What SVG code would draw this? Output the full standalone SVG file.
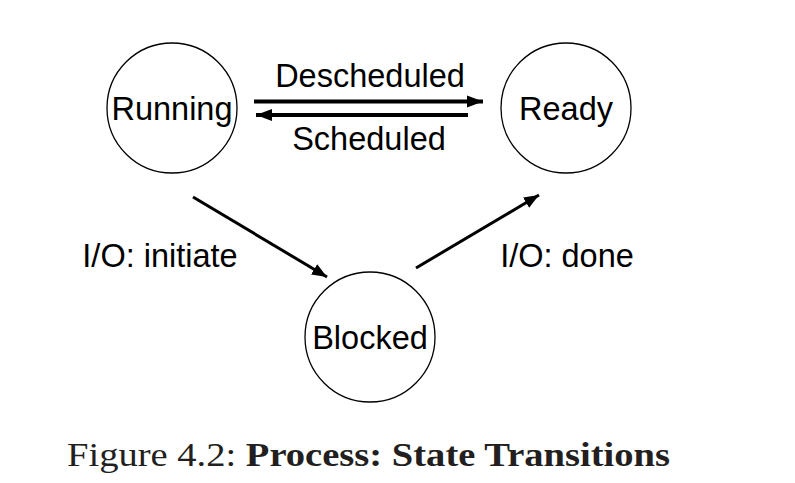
<svg xmlns="http://www.w3.org/2000/svg" width="795" height="483" viewBox="0 0 795 483">
<style>
.node{fill:#fff;stroke:#000;stroke-width:1.3}
.lbl{font-family:"Liberation Sans",Arial,sans-serif;font-size:32.5px;fill:#000;text-anchor:middle}
.edge{stroke:#000;fill:none}
.cap{font-family:"Liberation Serif","Times New Roman",serif;font-size:33px;fill:#231f20}
</style>
<defs>
<marker id="ah" viewBox="0 0 10 10" refX="10" refY="5" markerWidth="4" markerHeight="4" markerUnits="strokeWidth" orient="auto">
<path d="M0,1.2 L10,5 L0,8.8 z" fill="#000"/>
</marker>
<marker id="ah2" viewBox="0 0 10 10" refX="10" refY="5" markerWidth="5" markerHeight="5" markerUnits="strokeWidth" orient="auto">
<path d="M0,1 L10,5 L0,9 z" fill="#000"/>
</marker>
</defs>
<rect width="795" height="483" fill="#fff"/>
<g id="running"><circle class="node" cx="172" cy="108" r="65"/><text class="lbl" x="172" y="119.5">Running</text></g>
<g id="ready"><circle class="node" cx="566" cy="108" r="65"/><text class="lbl" x="566" y="119.5">Ready</text></g>
<g id="blocked"><circle class="node" cx="370" cy="337" r="65"/><text class="lbl" x="370" y="348.5">Blocked</text></g>
<g id="connectors">
<line class="edge" x1="254" y1="101.5" x2="483" y2="101.5" stroke-width="4" marker-end="url(#ah)"/>
<line class="edge" x1="468" y1="115" x2="256" y2="115" stroke-width="4" marker-end="url(#ah)"/>
<line class="edge" x1="193" y1="197" x2="327" y2="277" stroke-width="3" marker-end="url(#ah2)"/>
<line class="edge" x1="416" y1="268" x2="539" y2="195" stroke-width="3" marker-end="url(#ah2)"/>
</g>
<g id="labels">
<text class="lbl" x="370" y="87">Descheduled</text>
<text class="lbl" x="369" y="150">Scheduled</text>
<text class="lbl" x="160" y="267">I/O: initiate</text>
<text class="lbl" x="567" y="267">I/O: done</text>
</g>
<text class="cap" x="67" y="466" textLength="603" lengthAdjust="spacingAndGlyphs">Figure 4.2: <tspan font-weight="bold">Process: State Transitions</tspan></text>
</svg>
